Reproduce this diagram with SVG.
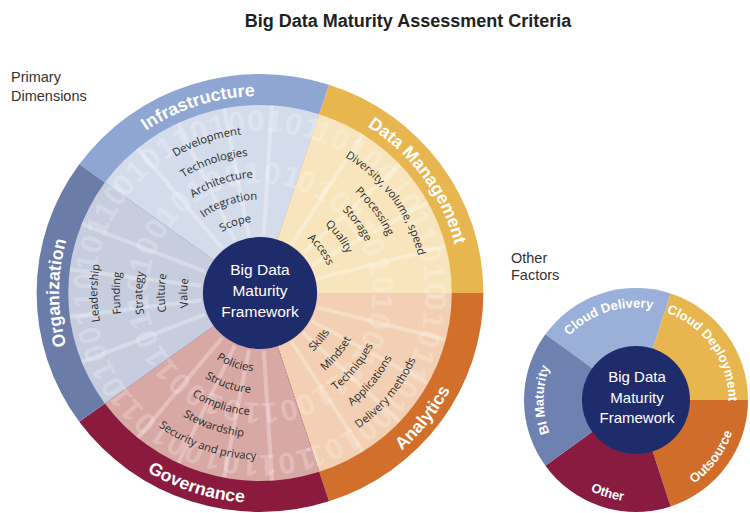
<svg xmlns="http://www.w3.org/2000/svg" width="750" height="513" viewBox="0 0 750 513">
  <style>
    .title{font-family:"Liberation Sans",Arial,sans-serif;font-weight:bold;font-size:18px;fill:#231f20}
    .side{font-family:"Liberation Sans",Arial,sans-serif;font-size:14.5px;fill:#333}
    .band{font-family:"Liberation Sans",Arial,sans-serif;font-weight:bold;font-size:17.5px;fill:#fff}
    .item{font-family:"Open Sans","Liberation Sans",sans-serif;font-size:11px;fill:#2a2a2a}
    .hub{font-family:"Liberation Sans",Arial,sans-serif;font-size:15.5px;fill:#fff;text-anchor:middle}
    .small{font-family:"Liberation Sans",Arial,sans-serif;font-weight:bold;font-size:13px;fill:#fff}
    .bits{font-family:"Liberation Sans",Arial,sans-serif;font-weight:bold;font-size:30px;fill:#fff;fill-opacity:.24;letter-spacing:1px}
    .spoke{stroke:#fff;stroke-opacity:.28;stroke-width:4}
  </style>
  <defs>
    <!-- label arcs, centred on compass 0 (cw, top) or 180 (ccw, bottom); rotated into place -->
    <path id="cw197" d="M-126.63,-150.91 A197,197 0 0 1 126.63,-150.91"/>
    <path id="ccw210" d="M-134.99,160.87 A210,210 0 0 0 134.99,160.87"/>
    <path id="c1" d="M-89.19,-132.23 A159.5,159.5 0 0 1 89.19,-132.23"/>
    <path id="c2" d="M-76.89,-113.99 A137.5,137.5 0 0 1 76.89,-113.99"/>
    <path id="c3" d="M-64.59,-95.75 A115.5,115.5 0 0 1 64.59,-95.75"/>
    <path id="c4" d="M-52.28,-77.52 A93.5,93.5 0 0 1 52.28,-77.52"/>
    <path id="c5" d="M-39.98,-59.28 A71.5,71.5 0 0 1 39.98,-59.28"/>
    <path id="d1" d="M-93.10,138.04 A166.5,166.5 0 0 0 93.10,138.04"/>
    <path id="d2" d="M-80.80,119.80 A144.5,144.5 0 0 0 80.80,119.80"/>
    <path id="d3" d="M-68.50,101.56 A122.5,122.5 0 0 0 68.50,101.56"/>
    <path id="d4" d="M-56.20,83.32 A100.5,100.5 0 0 0 56.20,83.32"/>
    <path id="d5" d="M-43.90,65.08 A78.5,78.5 0 0 0 43.90,65.08"/>
    <!-- one 72-degree texture arc per segment -->
    <path id="ring1" d="M-95.22,-131.06 A162,162 0 0 1 95.22,-131.06"/>
    <path id="ring2" d="M-64.66,-88.99 A110,110 0 0 1 64.66,-88.99"/>
    <path id="sc" d="M-65.41,-65.41 A92.5,92.5 0 0 1 65.41,-65.41"/>
    <path id="sd" d="M-71.77,71.77 A101.5,101.5 0 0 0 71.77,71.77"/>
    <clipPath id="inner"><circle r="188"/></clipPath>
  </defs>

  <rect width="750" height="513" fill="#fff"/>

  <text class="title" x="408" y="27" text-anchor="middle">Big Data Maturity Assessment Criteria</text>
  <text class="side" x="11" y="82">Primary</text>
  <text class="side" x="11" y="100.5">Dimensions</text>
  <text class="side" x="511" y="263">Other</text>
  <text class="side" x="511" y="279.5">Factors</text>

  <!-- primary dimensions wheel -->
  <g transform="translate(260,293) scale(1.02,1)">
    <g id="infrastructure">
      <path d="M0,0 L-177.18,-128.73 A219,219 0 0 1 67.68,-208.28 Z" fill="#8ea6d1"/>
      <path d="M0,0 L-152.10,-110.50 A188,188 0 0 1 58.10,-178.80 Z" fill="#d4dcec"/>
    </g>
    <g id="data-management">
      <path d="M0,0 L67.68,-208.28 A219,219 0 0 1 219,0 Z" fill="#e7b64e"/>
      <path d="M0,0 L58.10,-178.80 A188,188 0 0 1 188,0 Z" fill="#f8e5bd"/>
    </g>
    <g id="analytics">
      <path d="M0,0 L219,0 A219,219 0 0 1 67.68,208.28 Z" fill="#d2702b"/>
      <path d="M0,0 L188,0 A188,188 0 0 1 58.10,178.80 Z" fill="#f3d0b3"/>
    </g>
    <g id="governance">
      <path d="M0,0 L67.68,208.28 A219,219 0 0 1 -177.18,128.73 Z" fill="#8a1a3e"/>
      <path d="M0,0 L58.10,178.80 A188,188 0 0 1 -152.10,110.50 Z" fill="#d8a8a5"/>
    </g>
    <g id="organization">
      <path d="M0,0 L-177.18,128.73 A219,219 0 0 1 -177.18,-128.73 Z" fill="#6b7ca9"/>
      <path d="M0,0 L-152.10,110.50 A188,188 0 0 1 -152.10,-110.50 Z" fill="#c7cddf"/>
    </g>

    <!-- binary-digit texture and sub-wedge spokes -->
    <g clip-path="url(#inner)">
      <g class="spoke">
        <line x1="0" y1="-58" x2="0" y2="-188" transform="rotate(3.6)"/>
        <line x1="0" y1="-58" x2="0" y2="-188" transform="rotate(32.4)"/>
        <line x1="0" y1="-58" x2="0" y2="-188" transform="rotate(46.8)"/>
        <line x1="0" y1="-58" x2="0" y2="-188" transform="rotate(61.2)"/>
        <line x1="0" y1="-58" x2="0" y2="-188" transform="rotate(75.6)"/>
        <line x1="0" y1="-58" x2="0" y2="-188" transform="rotate(104.4)"/>
        <line x1="0" y1="-58" x2="0" y2="-188" transform="rotate(118.8)"/>
        <line x1="0" y1="-58" x2="0" y2="-188" transform="rotate(133.2)"/>
        <line x1="0" y1="-58" x2="0" y2="-188" transform="rotate(147.6)"/>
        <line x1="0" y1="-58" x2="0" y2="-188" transform="rotate(176.4)"/>
        <line x1="0" y1="-58" x2="0" y2="-188" transform="rotate(190.8)"/>
        <line x1="0" y1="-58" x2="0" y2="-188" transform="rotate(205.2)"/>
        <line x1="0" y1="-58" x2="0" y2="-188" transform="rotate(219.6)"/>
        <line x1="0" y1="-58" x2="0" y2="-188" transform="rotate(248.4)"/>
        <line x1="0" y1="-58" x2="0" y2="-188" transform="rotate(262.8)"/>
        <line x1="0" y1="-58" x2="0" y2="-188" transform="rotate(277.2)"/>
        <line x1="0" y1="-58" x2="0" y2="-188" transform="rotate(291.6)"/>
        <line x1="0" y1="-58" x2="0" y2="-188" transform="rotate(320.4)"/>
        <line x1="0" y1="-58" x2="0" y2="-188" transform="rotate(334.8)"/>
        <line x1="0" y1="-58" x2="0" y2="-188" transform="rotate(349.2)"/>
      </g>
      <g class="bits">
        <text transform="rotate(-18)"><textPath href="#ring1">010110100101</textPath></text>
        <text transform="rotate(54)"><textPath href="#ring1">101001011010</textPath></text>
        <text transform="rotate(126)"><textPath href="#ring1">010110100101</textPath></text>
        <text transform="rotate(198)"><textPath href="#ring1">101101001011</textPath></text>
        <text transform="rotate(270)"><textPath href="#ring1">010011010110</textPath></text>
        <text transform="rotate(-18)"><textPath href="#ring2">10100101</textPath></text>
        <text transform="rotate(54)"><textPath href="#ring2">01011010</textPath></text>
        <text transform="rotate(126)"><textPath href="#ring2">10010110</textPath></text>
        <text transform="rotate(198)"><textPath href="#ring2">01101001</textPath></text>
        <text transform="rotate(270)"><textPath href="#ring2">10110100</textPath></text>
      </g>
    </g>

    <!-- segment criteria -->
    <g class="item" text-anchor="middle" transform="rotate(-19)">
      <text><textPath href="#c1" startOffset="50%">Development</textPath></text>
      <text><textPath href="#c2" startOffset="50%">Technologies</textPath></text>
      <text><textPath href="#c3" startOffset="50%">Architecture</textPath></text>
      <text><textPath href="#c4" startOffset="50%">Integration</textPath></text>
      <text><textPath href="#c5" startOffset="50%">Scope</textPath></text>
    </g>
    <g class="item" text-anchor="middle" transform="rotate(54)">
      <text><textPath href="#c1" startOffset="50%">Diversity, volume, speed</textPath></text>
      <text><textPath href="#c2" startOffset="50%">Processing</textPath></text>
      <text><textPath href="#c3" startOffset="50%">Storage</textPath></text>
      <text><textPath href="#c4" startOffset="50%">Quality</textPath></text>
      <text><textPath href="#c5" startOffset="50%">Access</textPath></text>
    </g>
    <g class="item" text-anchor="middle" transform="rotate(-51)">
      <text><textPath href="#d1" startOffset="50%">Delivery methods</textPath></text>
      <text><textPath href="#d2" startOffset="50%">Applications</textPath></text>
      <text><textPath href="#d3" startOffset="50%">Techniques</textPath></text>
      <text><textPath href="#d4" startOffset="50%">Mindset</textPath></text>
      <text><textPath href="#d5" startOffset="50%">Skills</textPath></text>
    </g>
    <g class="item" text-anchor="middle" transform="rotate(19)">
      <text><textPath href="#d1" startOffset="50%">Security and privacy</textPath></text>
      <text><textPath href="#d2" startOffset="50%">Stewardship</textPath></text>
      <text><textPath href="#d3" startOffset="50%">Compliance</textPath></text>
      <text><textPath href="#d4" startOffset="50%">Structure</textPath></text>
      <text><textPath href="#d5" startOffset="50%">Policies</textPath></text>
    </g>
    <g class="item" text-anchor="middle" transform="rotate(270)">
      <text><textPath href="#c1" startOffset="50%">Leadership</textPath></text>
      <text><textPath href="#c2" startOffset="50%">Funding</textPath></text>
      <text><textPath href="#c3" startOffset="50%">Strategy</textPath></text>
      <text><textPath href="#c4" startOffset="50%">Culture</textPath></text>
      <text><textPath href="#c5" startOffset="50%">Value</textPath></text>
    </g>

    <!-- dimension names in the outer band -->
    <g class="band" text-anchor="middle">
      <text transform="rotate(-18)"><textPath href="#cw197" startOffset="50%">Infrastructure</textPath></text>
      <text transform="rotate(54)"><textPath href="#cw197" startOffset="50%">Data Management</textPath></text>
      <text transform="rotate(-52)"><textPath href="#ccw210" startOffset="50%">Analytics</textPath></text>
      <text transform="rotate(18)"><textPath href="#ccw210" startOffset="50%">Governance</textPath></text>
      <text transform="rotate(270)"><textPath href="#cw197" startOffset="50%">Organization</textPath></text>
    </g>

    <circle id="hub-primary" r="56" fill="#1f2c6c"/>
  </g>
  <g id="hub-primary-label" class="hub">
    <text x="260" y="275">Big Data</text>
    <text x="260" y="296">Maturity</text>
    <text x="260" y="317">Framework</text>
  </g>

  <!-- other factors wheel -->
  <g transform="translate(636,400)">
    <g id="cloud-delivery"><path d="M0,0 L-90.61,-65.83 A112,112 0 0 1 34.61,-106.52 Z" fill="#9bb0d9"/></g>
    <g id="cloud-deployment"><path d="M0,0 L34.61,-106.52 A112,112 0 0 1 112,0 Z" fill="#e8b64f"/></g>
    <g id="outsource"><path d="M0,0 L112,0 A112,112 0 0 1 34.61,106.52 Z" fill="#d06d2b"/></g>
    <g id="other"><path d="M0,0 L34.61,106.52 A112,112 0 0 1 -90.61,65.83 Z" fill="#891a40"/></g>
    <g id="bi-maturity"><path d="M0,0 L-90.61,65.83 A112,112 0 0 1 -90.61,-65.83 Z" fill="#6f81b0"/></g>
    <g class="small" text-anchor="middle">
      <text transform="rotate(-18)"><textPath href="#sc" startOffset="50%">Cloud Delivery</textPath></text>
      <text transform="rotate(55)"><textPath href="#sc" startOffset="50%">Cloud Deployment</textPath></text>
      <text transform="rotate(-53)"><textPath href="#sd" startOffset="50%">Outsource</textPath></text>
      <text transform="rotate(17)"><textPath href="#sd" startOffset="50%">Other</textPath></text>
      <text transform="rotate(270)"><textPath href="#sc" startOffset="50%">BI Maturity</textPath></text>
    </g>
    <circle id="hub-other" r="54" fill="#1f2c6c"/>
  </g>
  <g id="hub-other-label" class="hub" style="font-size:15px">
    <text x="637" y="382">Big Data</text>
    <text x="637" y="402.5">Maturity</text>
    <text x="637" y="423">Framework</text>
  </g>

  <!-- no connectors in this figure -->
  <g id="connectors"/>
</svg>
